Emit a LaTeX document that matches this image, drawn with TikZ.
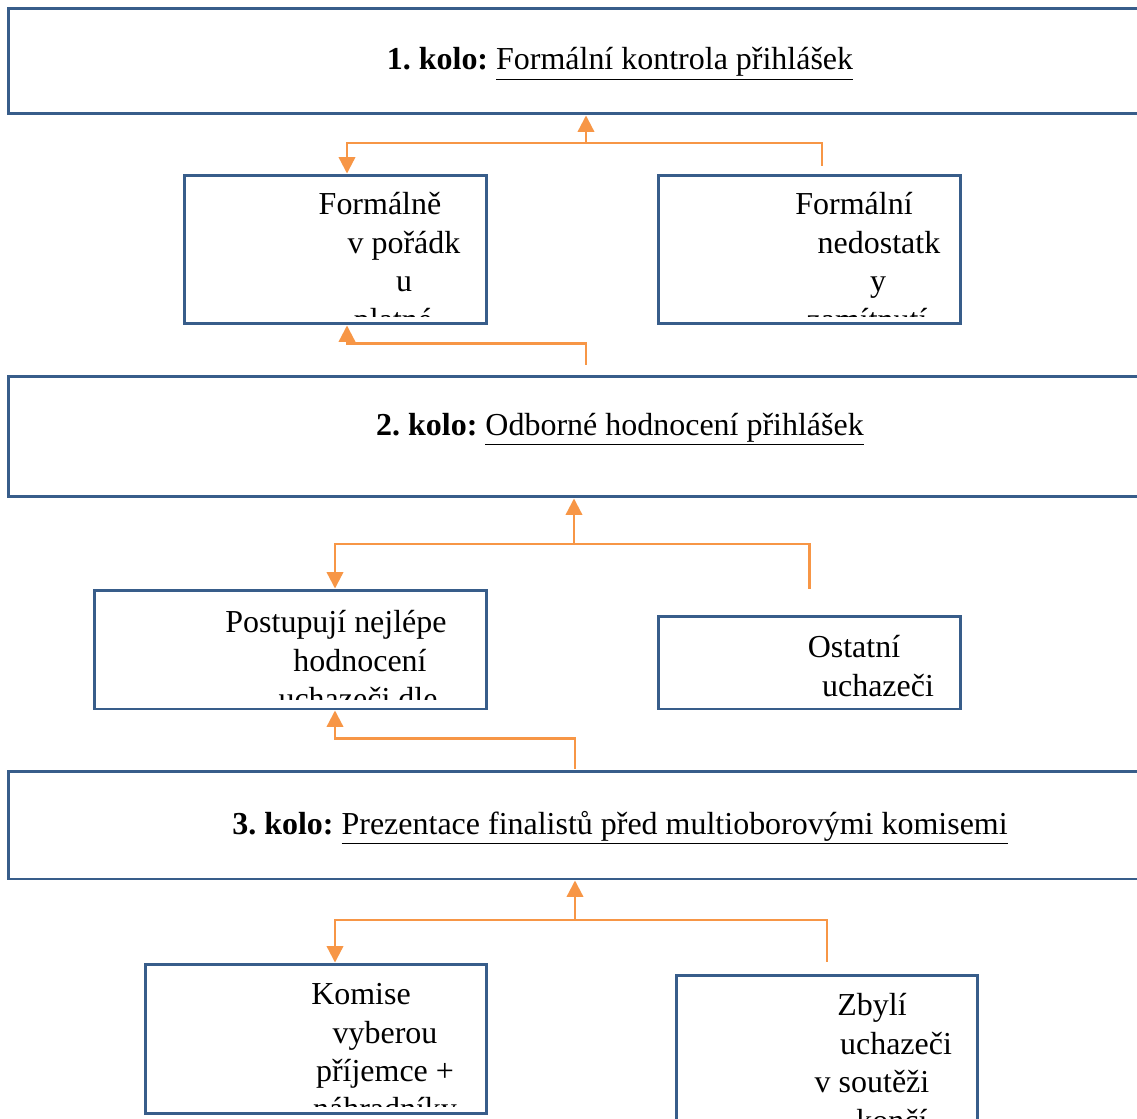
\documentclass[tikz,border=0pt]{standalone}
\usepackage{fontspec}
\setmainfont{Liberation Serif}
\usepackage{xcolor}
\usetikzlibrary{arrows.meta,calc}
\definecolor{boxblue}{HTML}{385D8A}
\definecolor{linkorange}{HTML}{F79646}
\newlength{\pxu}
\setlength{\pxu}{0.02cm}
\newcommand{\ind}[1]{\hspace*{#1\pxu}}
\frenchspacing
\begin{document}
\begin{tikzpicture}[
    x=0.02cm, y=-0.02cm,
    roundbox/.style={rectangle, draw=boxblue, line width=1.7pt, inner sep=0pt},
    boxtext/.style={align=center, anchor=north, inner sep=0pt, font=\fontsize{18.2}{21.9}\selectfont},
    title/.style={anchor=base, inner sep=0pt, font=\fontsize{18.2}{21.9}\selectfont},
    link/.style={linkorange, line width=1.3pt},
    arrow/.style={link, -{Triangle[length=0.33cm, width=0.33cm]}}
]
\useasboundingbox (0,0) rectangle (1137,1119);
\clip (0,0) rectangle (1137,1119);
\node[roundbox, minimum width=23.12cm, minimum height=2.12cm] (k1) at (586,61) {};
\node[roundbox, minimum width=6.06cm, minimum height=2.98cm] (ok) at (335.5,249.5) {};
\node[roundbox, minimum width=6.06cm, minimum height=2.98cm] (nedost) at (809.5,249.5) {};
\node[roundbox, minimum width=23.12cm, minimum height=2.42cm] (k2) at (586,436.5) {};
\node[roundbox, minimum width=7.86cm, minimum height=2.38cm] (postup) at (290.5,649.5) {};
\node[roundbox, minimum width=6.06cm, minimum height=1.86cm] (ostatni) at (809.5,662.5) {};
\node[roundbox, minimum width=23.12cm, minimum height=2.16cm] (k3) at (586,825) {};
\node[roundbox, minimum width=6.84cm, minimum height=3.0cm] (komise) at (316,1039) {};
\node[roundbox, minimum width=6.04cm, minimum height=3.2cm] (zbyli) at (827,1055) {};

\node[title] (t1) at (620,70) {\textbf{1. kolo:} \underline{Formální kontrola přihlášek}};
\node[title] (t2) at (620,435) {\textbf{2. kolo:} \underline{Odborné hodnocení přihlášek}};
\node[title] (t3) at (620,834) {\textbf{3. kolo:} \underline{Prezentace finalistů před multioborovými komisemi}};

\begin{scope}
    \clip ($(ok.south west)+(3,-9)$) rectangle ($(ok.north east)+(-3,3)$);
    \node[boxtext] (okt) at (380,192) {Formálně\\\ind{48}v pořádk\\\ind{48}u\\\ind{26}platné};
\end{scope}
\begin{scope}
    \clip ($(nedost.south west)+(3,-9)$) rectangle ($(nedost.north east)+(-3,3)$);
    \node[boxtext] (nedostt) at (854,192) {Formální\\\ind{50}nedostatk\\\ind{48}y\\\ind{26}zamítnutí};
\end{scope}
\begin{scope}
    \clip ($(postup.south west)+(3,-11)$) rectangle ($(postup.north east)+(-3,3)$);
    \node[boxtext] (postupt) at (336,610) {Postupují nejlépe\\\ind{48}hodnocení\\\ind{44}uchazeči dle};
\end{scope}
\node[boxtext] (ostatnit) at (854,635) {Ostatní\\\ind{48}uchazeči};
\begin{scope}
    \clip ($(komise.south west)+(3,-9)$) rectangle ($(komise.north east)+(-3,3)$);
    \node[boxtext] (komiset) at (361,983) {Komise\\\ind{48}vyberou\\\ind{48}příjemce +\\\ind{48}náhradníky};
\end{scope}
\node[boxtext] (zbylit) at (872,993) {Zbylí\\\ind{48}uchazeči\\v soutěži\\\ind{40}končí};

\coordinate (j1) at (586,143);
\draw[arrow] (j1) -- (k1.south);
\draw[link] ($(nedost.north)+(12.5,-8)$) |- (j1);
\draw[arrow] (j1) -| ($(ok.north)+(11.5,0)$);
\draw[arrow] ($(k2.north)+(0,-10)$) -- ++(0,-21) -| ($(ok.south)+(11.5,0)$);

\coordinate (j2) at (574,544);
\draw[arrow] (j2) -- (j2 |- k2.south);
\draw[link] ($(ostatni.north)+(0,-26)$) |- (j2);
\draw[arrow] (j2) -| ($(postup.north)+(44.5,0)$);
\draw[arrow] ($(k3.north)+(-11,-1)$) -- ++(0,-30) -| ($(postup.south)+(44.5,0)$);

\coordinate (j3) at (575,920);
\draw[arrow] (j3) -- (j3 |- k3.south);
\draw[link] ($(zbyli.north)+(0,-12)$) |- (j3);
\draw[arrow] (j3) -| ($(komise.north)+(19,0)$);
\end{tikzpicture}
\end{document}
